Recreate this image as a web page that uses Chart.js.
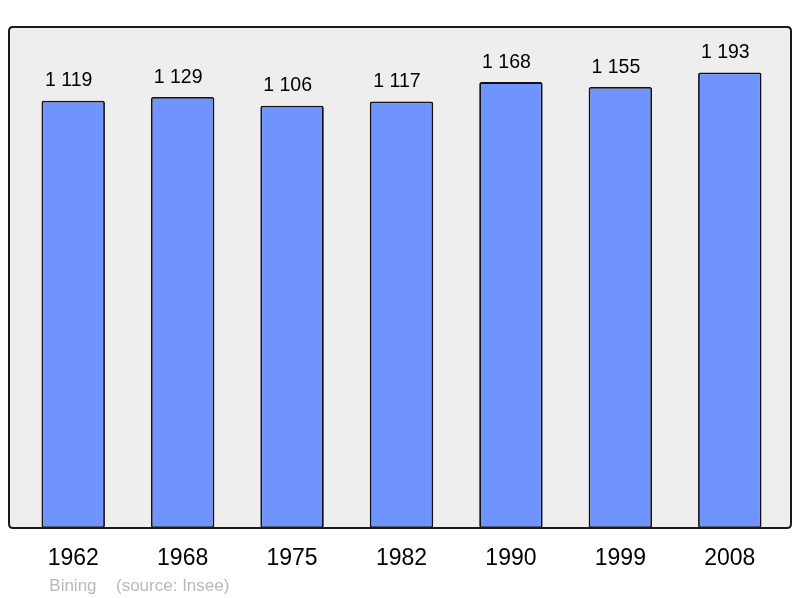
<!DOCTYPE html>
<html>
<head>
<meta charset="utf-8">
<style>
  html, body { margin: 0; padding: 0; background: #ffffff; }
  #wrap { width: 800px; height: 598px; }
</style>
<script src="https://cdn.jsdelivr.net/npm/chart.js@4"></script>
</head>
<body>
<div id="wrap"><canvas id="pop"></canvas></div>
<script>
// Population history — Bining (source: Insee)
const years = ['1962', '1968', '1975', '1982', '1990', '1999', '2008'];
const population = [1119, 1129, 1106, 1117, 1168, 1155, 1193];
const valueLabels = ['1 119', '1 129', '1 106', '1 117', '1 168', '1 155', '1 193'];
const townName = 'Bining';
const sourceNote = '(source: Insee)';

const FONT = '"Liberation Sans", Arial, sans-serif';

function roundRect(ctx, x, y, w, h, r) {
  ctx.beginPath();
  ctx.moveTo(x + r, y);
  ctx.lineTo(x + w - r, y);
  ctx.quadraticCurveTo(x + w, y, x + w, y + r);
  ctx.lineTo(x + w, y + h - r);
  ctx.quadraticCurveTo(x + w, y + h, x + w - r, y + h);
  ctx.lineTo(x + r, y + h);
  ctx.quadraticCurveTo(x, y + h, x, y + h - r);
  ctx.lineTo(x, y + r);
  ctx.quadraticCurveTo(x, y, x + r, y);
  ctx.closePath();
}

// grey panel behind the bars
const framePlugin = {
  id: 'frame',
  beforeDatasetsDraw(chart) {
    const { ctx, chartArea: a } = chart;
    ctx.save();
    roundRect(ctx, a.left - 9.5, a.top, a.right - a.left + 16, a.bottom - a.top, 4);
    ctx.fillStyle = '#eeeeee';
    ctx.fill();
    ctx.restore();
  },
  afterDatasetsDraw(chart) {
    const { ctx, chartArea: a } = chart;
    ctx.save();
    roundRect(ctx, a.left - 9.5, a.top, a.right - a.left + 16, a.bottom - a.top, 4);
    ctx.lineWidth = 2;
    ctx.strokeStyle = '#1a1a1a';
    ctx.stroke();
    ctx.restore();
  }
};

// value labels above bars, years below, source line
const labelPlugin = {
  id: 'labels',
  afterDraw(chart) {
    const { ctx, chartArea: a } = chart;
    const meta = chart.getDatasetMeta(0);
    const xs = chart.scales.x;
    ctx.save();
    ctx.textAlign = 'center';
    ctx.textBaseline = 'alphabetic';
    ctx.fillStyle = '#000000';
    ctx.font = '19.5px ' + FONT;
    meta.data.forEach((bar, i) => {
      ctx.fillText(valueLabels[i], bar.x - 4.5, bar.y - 14.3);
    });
    ctx.font = '23px ' + FONT;
    years.forEach((y, i) => {
      ctx.fillText(y, xs.getPixelForValue(i), a.bottom + 37);
    });
    ctx.textAlign = 'left';
    ctx.fillStyle = '#b8b8b8';
    ctx.font = '17px ' + FONT;
    ctx.fillText(townName, a.left + 30.8, a.bottom + 63);
    ctx.fillText(sourceNote, a.left + 97.5, a.bottom + 63);
    ctx.restore();
  }
};

new Chart(document.getElementById('pop'), {
  type: 'bar',
  data: {
    labels: years,
    datasets: [{
      data: population,
      backgroundColor: '#7094ff',
      borderColor: '#111111',
      borderWidth: 1.8,
      borderRadius: 2,
      borderSkipped: false,
      categoryPercentage: 1,
      barPercentage: 0.58,
    }],
  },
  options: {
    responsive: true,
    maintainAspectRatio: false,
    animation: false,
    layout: { padding: { left: 18.5, right: 15.5, top: 27, bottom: 70 } },
    scales: {
      x: { display: false },
      y: { display: false, min: 0, max: 1312.3 },
    },
    plugins: {
      legend: { display: false },
      tooltip: { enabled: false },
    },
  },
  plugins: [framePlugin, labelPlugin],
});
</script>
</body>
</html>
